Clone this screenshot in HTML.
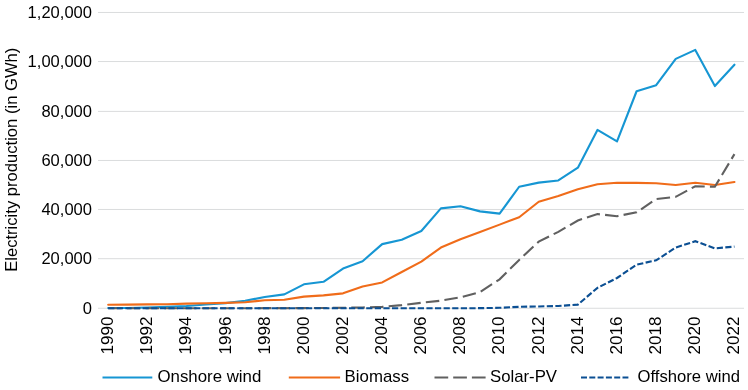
<!DOCTYPE html><html><head><meta charset="utf-8"><style>html,body{margin:0;padding:0;background:#fff;width:748px;height:390px;overflow:hidden}svg{display:block;will-change:transform}text{font-family:"Liberation Sans",sans-serif;fill:#000}</style></head><body>
<svg width="748" height="390" viewBox="0 0 748 390">
<line x1="98" x2="744" y1="308.25" y2="308.25" stroke="#dadcdd" stroke-width="1"/>
<text transform="translate(92,313.85) scale(1.035,1)" font-size="16" text-anchor="end">0</text>
<line x1="98" x2="744" y1="258.69" y2="258.69" stroke="#dadcdd" stroke-width="1"/>
<text transform="translate(92,264.29) scale(1.035,1)" font-size="16" text-anchor="end">20,000</text>
<line x1="98" x2="744" y1="209.46" y2="209.46" stroke="#dadcdd" stroke-width="1"/>
<text transform="translate(92,215.06) scale(1.035,1)" font-size="16" text-anchor="end">40,000</text>
<line x1="98" x2="744" y1="160.46" y2="160.46" stroke="#dadcdd" stroke-width="1"/>
<text transform="translate(92,166.06) scale(1.035,1)" font-size="16" text-anchor="end">60,000</text>
<line x1="98" x2="744" y1="111.40" y2="111.40" stroke="#dadcdd" stroke-width="1"/>
<text transform="translate(92,117.00) scale(1.035,1)" font-size="16" text-anchor="end">80,000</text>
<line x1="98" x2="744" y1="61.54" y2="61.54" stroke="#dadcdd" stroke-width="1"/>
<text transform="translate(92,67.14) scale(1.035,1)" font-size="16" text-anchor="end">1,00,000</text>
<line x1="98" x2="744" y1="12.46" y2="12.46" stroke="#dadcdd" stroke-width="1"/>
<text transform="translate(92,18.06) scale(1.035,1)" font-size="16" text-anchor="end">1,20,000</text>
<text transform="translate(16.8,159.75) rotate(-90) scale(1.038,1)" font-size="16" text-anchor="middle">Electricity production (in GWh)</text>
<text transform="translate(113.20,316.6) rotate(-90) scale(1.065,1)" font-size="16" text-anchor="end">1990</text>
<text transform="translate(152.33,316.6) rotate(-90) scale(1.065,1)" font-size="16" text-anchor="end">1992</text>
<text transform="translate(191.45,316.6) rotate(-90) scale(1.065,1)" font-size="16" text-anchor="end">1994</text>
<text transform="translate(230.58,316.6) rotate(-90) scale(1.065,1)" font-size="16" text-anchor="end">1996</text>
<text transform="translate(269.70,316.6) rotate(-90) scale(1.065,1)" font-size="16" text-anchor="end">1998</text>
<text transform="translate(308.82,316.6) rotate(-90) scale(1.065,1)" font-size="16" text-anchor="end">2000</text>
<text transform="translate(347.95,316.6) rotate(-90) scale(1.065,1)" font-size="16" text-anchor="end">2002</text>
<text transform="translate(387.07,316.6) rotate(-90) scale(1.065,1)" font-size="16" text-anchor="end">2004</text>
<text transform="translate(426.20,316.6) rotate(-90) scale(1.065,1)" font-size="16" text-anchor="end">2006</text>
<text transform="translate(465.32,316.6) rotate(-90) scale(1.065,1)" font-size="16" text-anchor="end">2008</text>
<text transform="translate(504.45,316.6) rotate(-90) scale(1.065,1)" font-size="16" text-anchor="end">2010</text>
<text transform="translate(543.57,316.6) rotate(-90) scale(1.065,1)" font-size="16" text-anchor="end">2012</text>
<text transform="translate(582.70,316.6) rotate(-90) scale(1.065,1)" font-size="16" text-anchor="end">2014</text>
<text transform="translate(621.82,316.6) rotate(-90) scale(1.065,1)" font-size="16" text-anchor="end">2016</text>
<text transform="translate(660.95,316.6) rotate(-90) scale(1.065,1)" font-size="16" text-anchor="end">2018</text>
<text transform="translate(700.07,316.6) rotate(-90) scale(1.065,1)" font-size="16" text-anchor="end">2020</text>
<text transform="translate(739.20,316.6) rotate(-90) scale(1.065,1)" font-size="16" text-anchor="end">2022</text>
<polyline fill="none" stroke="#1696d3" stroke-width="2.1" stroke-linejoin="round" stroke-linecap="round" points="108.20,308.07 127.77,308.00 147.34,307.56 166.91,306.77 186.48,306.01 206.05,304.48 225.62,303.14 245.19,300.79 264.76,296.96 284.33,294.35 303.90,284.33 323.47,281.82 343.04,268.55 362.61,261.19 382.18,244.10 401.75,239.78 421.32,231.02 440.89,208.38 460.46,206.22 480.03,211.36 499.60,213.65 519.17,186.75 538.74,182.64 558.31,180.49 577.88,167.66 597.45,129.90 617.02,141.46 636.59,91.25 656.16,85.17 675.73,58.87 695.30,49.88 714.87,86.07 734.44,64.67"/>
<polyline fill="none" stroke="#f06c1a" stroke-width="2.1" stroke-linejoin="round" stroke-linecap="round" points="108.20,304.71 127.77,304.62 147.34,304.41 166.91,304.22 186.48,303.63 206.05,303.29 225.62,302.92 245.19,302.28 264.76,300.23 284.33,299.74 303.90,296.59 323.47,295.40 343.04,293.34 362.61,286.45 382.18,282.43 401.75,271.99 421.32,261.57 440.89,247.56 460.46,239.18 480.03,232.10 499.60,224.61 519.17,217.30 538.74,201.74 558.31,196.04 577.88,189.20 597.45,184.29 617.02,182.76 636.59,182.88 656.16,183.25 675.73,184.98 695.30,182.76 714.87,184.98 734.44,182.02"/>
<polyline fill="none" stroke="#606060" stroke-width="2.1" stroke-dasharray="13.5 5.2" points="108.20,308.25 127.77,308.25 147.34,308.24 166.91,308.24 186.48,308.23 206.05,308.23 225.62,308.22 245.19,308.21 264.76,308.16 284.33,308.18 303.90,308.10 323.47,307.96 343.04,307.79 362.61,307.48 382.18,306.88 401.75,305.09 421.32,302.78 440.89,300.67 460.46,297.35 480.03,292.02 499.60,279.33 519.17,259.93 538.74,241.68 558.31,231.82 577.88,220.48 597.45,214.07 617.02,216.17 636.59,212.35 656.16,199.03 675.73,196.81 695.30,186.21 714.87,186.70 734.44,154.16"/>
<polyline fill="none" stroke="#0b4f93" stroke-width="2.1" stroke-dasharray="6.2 2.4" points="108.20,308.25 127.77,308.25 147.34,308.25 166.91,308.25 186.48,308.25 206.05,308.25 225.62,308.25 245.19,308.25 264.76,308.25 284.33,308.25 303.90,308.25 323.47,308.25 343.04,308.25 362.61,308.25 382.18,308.25 401.75,308.25 421.32,308.25 440.89,308.25 460.46,308.25 480.03,308.16 499.60,307.82 519.17,306.83 538.74,306.45 558.31,305.99 577.88,304.62 597.45,287.83 617.02,277.99 636.59,264.67 656.16,260.26 675.73,247.60 695.30,241.19 714.87,248.34 734.44,246.61"/>
<line x1="102.5" x2="152.3" y1="377.4" y2="377.4" stroke="#1696d3" stroke-width="2"/>
<text transform="translate(157.5,382) scale(1.052,1)" font-size="16">Onshore wind</text>
<line x1="288.8" x2="340.1" y1="377.4" y2="377.4" stroke="#f06c1a" stroke-width="2"/>
<text transform="translate(344.6,382) scale(1.051,1)" font-size="16">Biomass</text>
<line x1="434.5" x2="485.6" y1="377.4" y2="377.4" stroke="#606060" stroke-width="2" stroke-dasharray="13.7 5"/>
<text transform="translate(490,382) scale(1.048,1)" font-size="16">Solar-PV</text>
<line x1="581" x2="628.4" y1="377.4" y2="377.4" stroke="#0b4f93" stroke-width="2" stroke-dasharray="6 2.3"/>
<text transform="translate(637.5,382) scale(1.042,1)" font-size="16">Offshore wind</text>
</svg></body></html>
